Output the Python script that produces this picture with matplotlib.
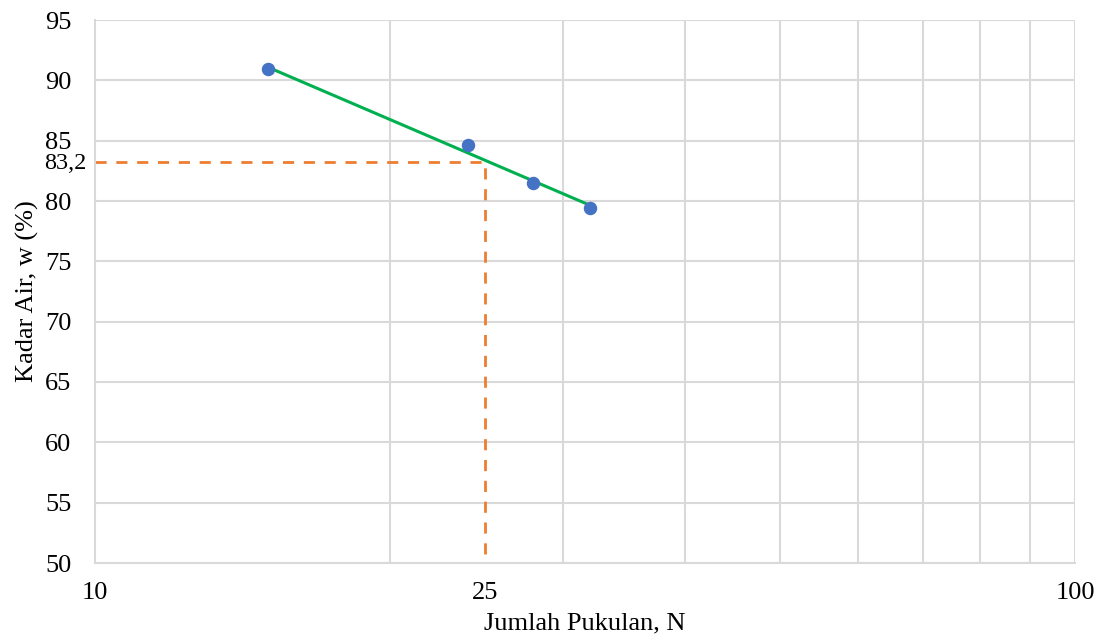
import numpy as np
import matplotlib
matplotlib.use("Agg")
import matplotlib.pyplot as plt
from matplotlib.ticker import FixedLocator, NullLocator

plt.rcParams['font.family'] = ['Liberation Serif', 'DejaVu Serif']

# data
pukulan = [15, 24, 28, 32]
kadar_air = [90.9, 84.6, 81.5, 79.4]
n_25 = 25
w_25 = 83.2
y_ticks = [50, 55, 60, 65, 70, 75, 80, 85, 90, 95]
grid_x = [20, 30, 40, 50, 60, 70, 80, 90, 100]

fig = plt.figure(figsize=(10.99, 6.37), dpi=100)
ax = fig.add_axes([95 / 1099, 1 - 563 / 637, 980 / 1099, 543 / 637])

# log trendline through the points
coef = np.polyfit(np.log10(pukulan), kadar_air, 1)
xs = np.array([min(pukulan), max(pukulan)])
ax.plot(xs, np.polyval(coef, np.log10(xs)), color='#00b050', lw=2.2, zorder=3)
ax.scatter(pukulan, kadar_air, s=75, color='#4472c4', zorder=4)

# 25 blows reading
ax.plot([10, n_25, n_25], [w_25, w_25, 50], color='#ed7d31', lw=2,
        dashes=(4, 3.5), zorder=2, clip_on=False)

ax.set_xscale('log')
ax.set_xlim(10, 100)
ax.set_ylim(50, 95)

ax.xaxis.set_major_locator(FixedLocator([10, 25, 100]))
ax.xaxis.set_minor_locator(NullLocator())
ax.set_xticklabels(['10', '25', '100'])
ax.set_yticks(y_ticks)
for g in grid_x:
    ax.axvline(g, color='#d9d9d9', lw=1.5, zorder=0)
for y in y_ticks:
    ax.axhline(y, color='#d9d9d9', lw=1.5, zorder=0)

# extra label on the y axis for 83,2
ax.text(-0.009, w_25 - 0.1, '83,2', transform=ax.get_yaxis_transform(),
        ha='right', va='center', fontsize=17.5)

ax.tick_params(axis='both', length=0, labelsize=19)
ax.tick_params(axis='y', pad=17)
ax.tick_params(axis='x', pad=14)
for s in ['top', 'right']:
    ax.spines[s].set_visible(False)
for s in ['left', 'bottom']:
    ax.spines[s].set_color('#d9d9d9')
    ax.spines[s].set_linewidth(1.5)

ax.set_xlabel('Jumlah Pukulan, N', fontsize=19, labelpad=6)
ax.set_ylabel('Kadar Air, w (%)', fontsize=19, labelpad=4)

fig.savefig('out.png', dpi=100)
